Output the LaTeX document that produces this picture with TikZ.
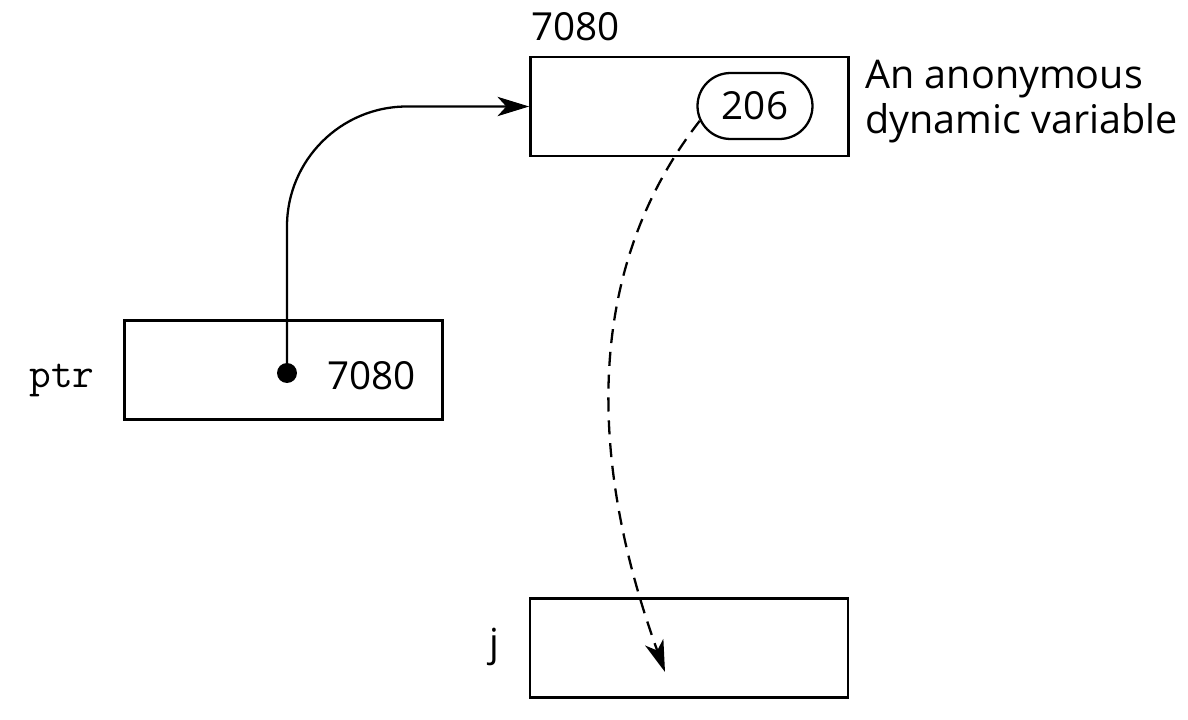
\documentclass[tikz,border=0pt]{standalone}
\usepackage{fontspec}
\setmainfont{Open Sans}
\usetikzlibrary{shapes.misc,arrows.meta}
\begin{document}
\begin{tikzpicture}
    [x=0.02cm, y=-0.02cm,
     cell/.style={draw, line width=1.6pt, minimum width=6.36cm, minimum height=1.98cm, inner sep=0pt},
     num/.style={font=\fontsize{22}{26}\selectfont, inner sep=0pt},
     varname/.style={font=\fontsize{24}{28}\selectfont\ttfamily, inner sep=0pt},
     link/.style={-{Stealth[length=18pt,width=11pt,inset=5pt]}, line width=1.3pt}]

    \useasboundingbox (0,0) rectangle (1188,720);

    \node [cell] at (689.5, 106.5) (nheap) {};
    \node [cell] at (283.5, 370) (nptr) {};
    \node [cell] at (689, 648) (nj) {};

    \node [num, anchor=base west] at (531, 40) (naddr) {7080};
    \node [num, draw, rounded rectangle, line width=1.3pt,
           minimum width=2.3cm, minimum height=1.32cm] at (755, 106) (nval) {206};
    \node [anchor=base west, align=left, inner sep=0pt,
           font=\fontsize{22.5}{25.6}\selectfont] at (865, 133) (nnote) {An anonymous\\dynamic variable};

    \node [varname, anchor=base east] at (95, 387) (nptrname) {ptr};
    \node [num, anchor=base west] at (327, 389) (nptrval) {7080};
    \node [circle, fill, minimum size=0.4cm, inner sep=0pt] at (287, 373) (ndot) {};

    \node [num, anchor=base east] at (500, 656) (njname) {j};
    \coordinate (njin) at (665, 672);

    \draw [link, rounded corners=2.4cm] (ndot.center) |- (nheap.west);
    \draw [link, dash pattern=on 8pt off 5pt] (nval.195) .. controls (560, 300) and (610, 520) .. (njin);

\end{tikzpicture}
\end{document}
